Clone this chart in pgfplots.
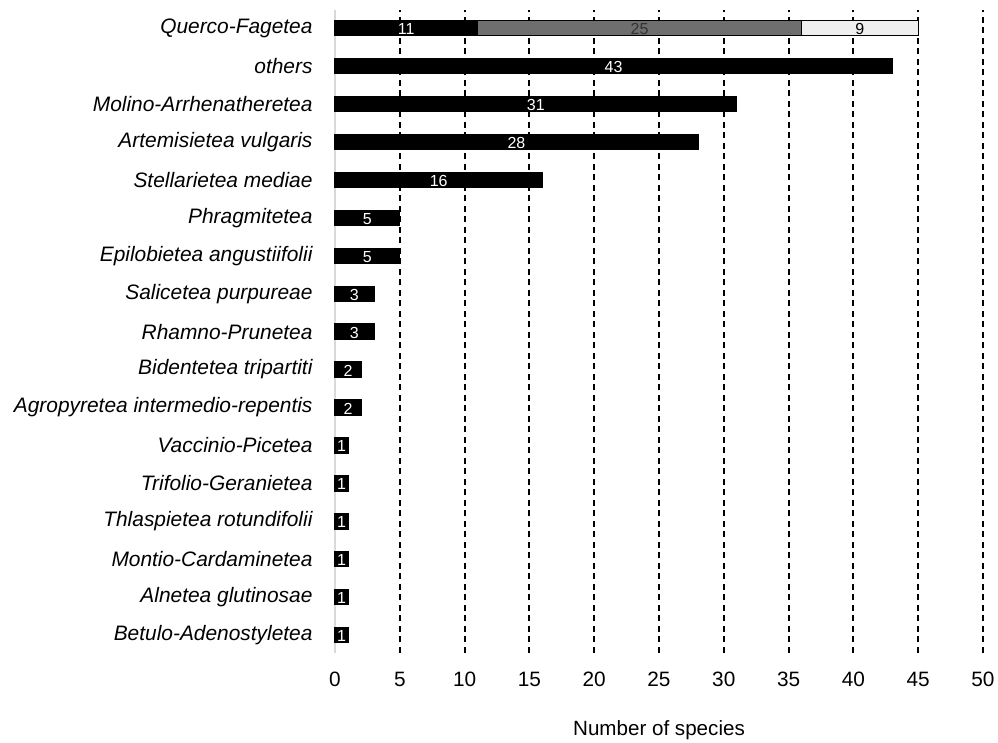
\documentclass[border=0pt]{standalone}
\usepackage{fontspec}
\setmainfont{Liberation Sans}
\usepackage{pgfplots}
\pgfplotsset{compat=1.18}
\definecolor{midgray}{HTML}{6E6E6E}
\definecolor{lightfill}{HTML}{EFEFEF}
\definecolor{axisgray}{HTML}{D9D9D9}
\begin{document}
\begin{tikzpicture}
\begin{axis}[
  x=12.96bp, y=37.94bp,
  xmin=0, xmax=50, ymin=-0.47, ymax=16.47,
  xbar stacked, bar width=15bp,
  axis x line*=bottom, axis y line*=left,
  x axis line style={draw=none},
  y axis line style={draw=axisgray, line width=2bp, -},
  major tick length=0pt,
  xtick={0,5,...,50},
  ytick={0,...,16},
  yticklabels={Betulo-Adenostyletea, Alnetea glutinosae, Montio-Cardaminetea, Thlaspietea rotundifolii, Trifolio-Geranietea, Vaccinio-Picetea, Agropyretea intermedio-repentis, Bidentetea tripartiti, Rhamno-Prunetea, Salicetea purpureae, Epilobietea angustiifolii, Phragmitetea, Stellarietea mediae, Artemisietea vulgaris, Molino-Arrhenatheretea, others, Querco-Fagetea},
  /pgf/number format/assume math mode=true,
  yticklabel style={font=\fontsize{20.9bp}{25bp}\selectfont\itshape, xshift=-19bp},
  xticklabel style={font=\fontsize{20.8bp}{25bp}\selectfont, text height=15bp, text depth=0bp, yshift=-15bp},
  xlabel={Number of species},
  xlabel style={font=\fontsize{20.6bp}{25bp}\selectfont, yshift=-27bp},
  xmajorgrids=true,
  grid style={black, line width=1.9bp, dash pattern=on 6bp off 4.5bp},
  every axis plot/.append style={draw=black, line width=1.4bp},
  point meta=rawx,
  nodes near coords={\pgfmathfloatifflags{\pgfplotspointmeta}{0}{}{\pgfmathprintnumber{\pgfplotspointmeta}}},
  every node near coord/.append style={anchor=center, yshift=-1bp, font=\fontsize{16bp}{18bp}\selectfont, inner sep=0pt},
  clip=false,
]
\addplot[fill=black, every node near coord/.append style={text=white}] coordinates {
 (1,0) (1,1) (1,2) (1,3) (1,4) (1,5) (2,6) (2,7) (3,8) (3,9) (5,10) (5,11) (16,12) (28,13) (31,14) (43,15) (11,16)};
\addplot[fill=midgray, every node near coord/.append style={text=black!80}] coordinates {
 (0,0) (0,1) (0,2) (0,3) (0,4) (0,5) (0,6) (0,7) (0,8) (0,9) (0,10) (0,11) (0,12) (0,13) (0,14) (0,15) (25,16)};
\addplot[fill=lightfill, every node near coord/.append style={text=black}] coordinates {
 (0,0) (0,1) (0,2) (0,3) (0,4) (0,5) (0,6) (0,7) (0,8) (0,9) (0,10) (0,11) (0,12) (0,13) (0,14) (0,15) (9,16)};
\end{axis}
\path ([shift={(-335bp,-87bp)}]current axis.south west) rectangle ([shift={(663bp,653bp)}]current axis.south west);
\end{tikzpicture}
\end{document}
